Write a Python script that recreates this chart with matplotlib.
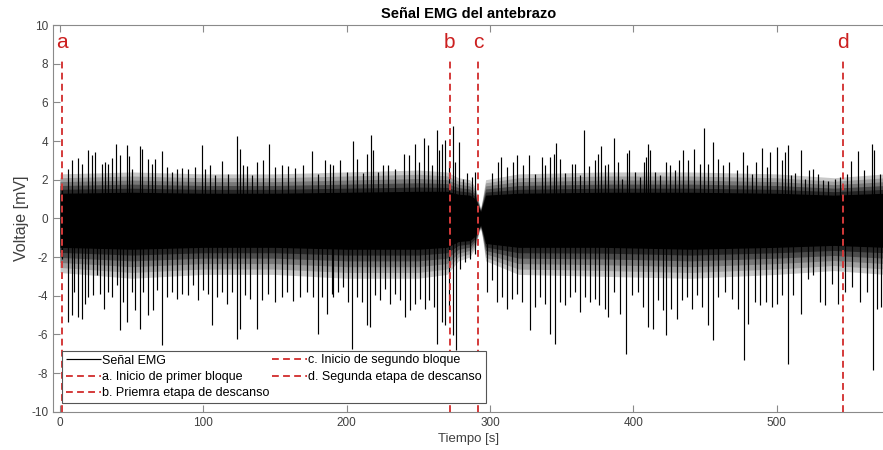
import numpy as np
import matplotlib
matplotlib.use("Agg")
from matplotlib import pyplot as plt

plt.rcParams["font.family"] = ["Liberation Sans", "DejaVu Sans"]
plt.rcParams["axes.unicode_minus"] = False

# marcas de los bloques (s)
mark_t = [1.4, 272.0, 292.0, 546.4]
mark_txt = ["a", "b", "c", "d"]
mark_lbl = ["a. Inicio de primer bloque", "b. Priemra etapa de descanso",
            "c. Inicio de segundo bloque", "d. Segunda etapa de descanso"]

# envolvente de la banda densa de la señal (mV)
core_t = [0, 50, 100, 150, 200, 250, 270, 278, 286, 290, 292, 293.5, 295, 297, 320, 380, 440, 500, 540, 576]
core_top = [1.3, 1.35, 1.3, 1.3, 1.35, 1.4, 1.4, 1.25, 1.2, 1.0, 0.6, 0.35, 0.7, 1.2, 1.3, 1.35, 1.35, 1.3, 1.2, 1.3]
core_bot = [-1.5, -1.6, -1.5, -1.5, -1.6, -1.6, -1.5, -1.2, -1.15, -0.9, -0.55, -0.35, -0.7, -1.3, -1.5, -1.5, -1.6, -1.5, -1.4, -1.5]
fringe_top = [2.3, 2.4, 2.3, 2.3, 2.4, 2.5, 2.4, 2.1, 2.0, 1.6, 0.9, 0.5, 1.1, 2.0, 2.3, 2.4, 2.4, 2.3, 2.1, 2.3]
fringe_bot = [-2.8, -3.1, -2.9, -2.9, -3.1, -3.1, -2.9, -2.2, -2.0, -1.5, -0.8, -0.5, -1.1, -2.2, -2.9, -3.0, -3.1, -2.9, -2.7, -2.9]

# picos positivos (t, mV)
up_t = [1.2, 5.8, 8.1, 12.8, 15.1, 19.8, 22.1, 24.4, 29.1, 31.4, 33.7, 36.0, 38.8, 41.9, 46.5, 48.1,
        50.0, 55.8, 57.4, 61.6, 64.0, 66.3, 70.9, 74.4, 77.9, 81.4, 84.9, 89.5, 94.2, 98.8, 101.2,
        104.7, 108.1, 112.8, 117.5, 123.3, 125.6, 128.0, 130.2, 133.7, 137.2, 141.9, 146.1, 150.0,
        154.7, 159.3, 164.0, 169.8, 175.6, 180.3, 184.9, 188.4,
        190.7, 195.4, 200.0, 204.2, 207.0, 211.7, 214.0, 216.8, 218.6, 222.1, 225.6, 229.1, 233.8,
        240.0, 243.8, 247.7, 250.7, 254.0, 257.0, 259.3, 262.8, 264.7, 266.3, 268.6, 271.4, 274.0,
        275.6, 278.4, 281.0, 284.2, 287.3, 289.6, 301.2, 305.9, 307.5, 311.7, 316.3, 318.7, 322.8,
        327.5, 331.5, 336.1, 338.4, 341.9, 344.7, 346.1, 348.9, 352.4, 357.0, 359.4, 362.9, 365.6,
        369.4, 373.3, 375.6, 377.3, 380.3, 382.6,
        386.8, 389.1, 391.9, 395.4, 397.0, 401.2, 404.7, 407.7, 408.7, 410.5, 411.7, 415.2, 418.7,
        422.6, 425.7, 429.1, 432.0, 435.0, 438.5, 442.6, 446.6, 449.4, 452.0, 455.9, 458.9, 462.9,
        466.8, 472.2, 476.4, 479.2, 482.6, 485.4, 489.6, 493.1, 495.4, 500.1, 503.6, 505.9, 507.8,
        510.1, 512.9, 517.1, 519.9, 522.7, 525.7, 529.2, 532.6, 536.1, 540.8, 544.3, 549.0, 552.0,
        557.1, 561.3, 566.4, 568.2, 572.2]
up_v = [1.54, 2.57, 3.00, 3.12, 2.83, 3.55, 3.29, 3.43, 2.83, 2.92, 2.83, 3.12, 3.83, 3.29, 3.78, 3.21,
        2.57, 3.74, 3.60, 3.05, 2.83, 3.09, 3.47, 2.66, 2.40, 2.54, 2.60, 2.57, 2.66, 3.78, 2.54,
        2.74, 2.23, 2.95, 2.31, 4.26, 3.60, 2.78, 2.71, 2.23, 2.92, 3.00, 3.86, 2.66,
        2.78, 2.71, 2.60, 2.78, 3.47, 2.31, 3.00, 2.83,
        2.74, 3.00, 2.40, 3.98, 3.09, 2.36, 3.35, 4.33, 3.52, 2.40, 2.74, 2.74, 2.57,
        3.35, 3.26, 3.86, 2.92, 4.16, 3.81, 2.74, 4.59, 3.52, 3.86, 4.04, 2.95, 4.78,
        2.92, 3.95, 2.05, 2.36, 2.14, 2.40, 2.36, 2.92, 3.17, 2.66, 2.92, 3.29, 2.74,
        3.26, 2.31, 3.17, 2.74, 3.17, 3.35, 3.90, 3.09, 2.36, 2.83, 2.83, 2.23, 4.59,
        2.71, 3.00, 3.35, 3.74, 2.74, 2.83,
        4.16, 2.92, 2.05, 3.40, 3.52, 2.40, 2.14, 2.92, 3.17, 3.86, 3.52, 2.40, 2.23,
        2.92, 2.74, 2.48, 3.00, 3.52, 3.00, 3.57, 2.83, 4.69, 2.83, 3.95, 3.09, 2.74,
        2.92, 2.48, 3.43, 2.74, 2.31, 2.92, 3.66, 2.66, 3.43, 3.69, 3.00, 3.43, 3.81,
        2.23, 2.36, 3.52, 2.05, 2.48, 2.57, 2.31, 1.97, 1.92, 2.05, 2.14, 2.31, 2.95,
        3.47, 2.48, 3.86, 3.52, 2.31]

# picos negativos (t, mV)
dn_t = [1.2, 5.8, 8.1, 10.0, 12.8, 15.1, 17.4, 19.8, 23.3, 25.6, 27.9, 30.9, 33.7, 36.0, 39.5, 41.9,
        44.2, 46.5, 50.5, 52.3, 55.8, 58.1, 61.6, 65.1, 67.4, 70.9, 74.4, 77.9, 81.4, 84.9, 89.5,
        93.0, 96.5, 100.0, 103.5, 106.3, 109.3, 112.8, 116.3, 119.8, 123.3, 125.6, 129.1, 132.6,
        137.2, 140.7, 145.4, 150.0, 154.7, 158.2, 162.8, 167.5, 172.1, 176.8, 180.3, 182.6, 186.1,
        189.6,
        190.7, 194.2, 197.7, 201.2, 203.5, 207.0, 210.5, 214.0, 216.3, 219.8, 223.3, 226.8, 230.3,
        233.8, 237.2, 240.7, 244.2, 247.7, 251.2, 254.7, 257.7, 261.0, 262.8, 266.3, 268.6, 271.7,
        274.0, 276.3, 279.1, 282.6, 286.1, 289.6, 297.7, 301.2, 304.7, 308.2, 311.7, 315.2, 318.7,
        322.2, 328.0, 331.5, 335.0, 338.4, 341.9, 345.4, 348.9, 352.4, 355.9, 359.4, 362.9, 366.3,
        369.8, 373.3, 376.3, 380.3,
        382.6, 386.8, 390.8, 394.7, 398.9, 403.6, 407.1, 410.5, 414.0, 417.5, 421.0, 422.6, 426.4,
        430.3, 433.8, 437.3, 440.8, 444.3, 447.8, 451.9, 455.9, 459.4, 464.0, 468.7, 472.9, 477.1,
        480.3, 485.0, 488.5, 492.4, 496.6, 500.1, 503.6, 507.8, 511.7, 517.1, 522.2, 525.7, 530.3,
        533.8, 538.5, 543.1, 547.8, 552.4, 558.2, 562.9, 567.1, 569.9, 572.9]
dn_v = [-2.09, -5.36, -5.02, -3.81, -5.10, -5.19, -4.41, -4.07, -3.98, -2.95, -3.90, -4.67, -3.81, -4.07, -3.47, -5.79,
        -4.33, -5.36, -3.81, -4.76, -5.71, -3.81, -5.02, -4.76, -3.72, -6.53, -4.07, -3.81, -4.15, -3.90, -3.98,
        -3.47, -4.24, -3.72, -3.90, -5.53, -4.07, -3.81, -4.41, -3.81, -6.22, -5.71, -3.98, -4.15,
        -5.71, -4.24, -3.90, -4.33, -4.07, -3.81, -4.29, -4.07, -3.81, -4.07, -5.96, -4.07, -4.93,
        -3.90,
        -4.07, -3.81, -3.55, -4.33, -6.74, -4.07, -4.33, -5.53, -5.62, -3.98, -4.24, -3.64, -4.41,
        -3.90, -4.24, -5.10, -4.76, -4.41, -4.15, -4.67, -4.24, -4.59, -6.48, -5.36, -5.53, -4.76,
        -6.05, -6.83, -2.60, -2.26, -2.09, -1.83, -3.81, -3.21, -4.33, -4.07, -4.67, -4.15, -3.90,
        -4.33, -5.79, -4.59, -4.07, -4.41, -5.96, -6.48, -4.33, -4.50, -4.07, -3.81, -4.84, -4.07,
        -4.33, -4.15, -4.50, -4.67,
        -5.10, -3.81, -4.93, -7.00, -3.98, -3.81, -4.59, -5.62, -5.71, -4.24, -4.76, -6.05, -4.67,
        -5.19, -4.24, -4.07, -4.67, -3.98, -4.59, -5.53, -6.31, -4.07, -3.81, -4.15, -4.67, -7.34,
        -5.45, -4.33, -4.50, -4.33, -4.59, -4.41, -3.98, -7.52, -3.98, -4.93, -3.12, -2.95, -4.33,
        -4.50, -3.38, -4.41, -3.81, -3.55, -4.33, -3.81, -7.86, -4.67, -4.59]

red = "#d43a3a"
txt_red = "#cc1f1f"
axis_gray = "#8a8a8a"
lbl_gray = "#404040"

fig = plt.figure(figsize=(8.83, 4.5), dpi=100)
ax = fig.add_axes([53 / 883, 38.3 / 450, 832 / 883, 386.7 / 450])

# banda densa: degradado del borde (núcleo negro -> borde gris claro)
ct, cb = np.array(core_top), np.array(core_bot)
ft, fb = np.array(fringe_top), np.array(fringe_bot)
shades = ["#c8c8c8", "#a0a0a0", "#787878", "#4c4c4c", "#262626"]
for k, col in enumerate(shades):
    f = 1 - k / len(shades)
    ax.fill_between(core_t, cb + (fb - cb) * f, ct + (ft - ct) * f, color=col, lw=0, zorder=1)
ax.fill_between(core_t, core_bot, core_top, color="black", lw=0, zorder=2)
# picos
ax.vlines(up_t, 0, up_v, colors="black", lw=0.85, zorder=2)
ax.vlines(dn_t, 0, dn_v, colors="black", lw=0.85, zorder=2, label="Señal EMG")

for t, s, lab in zip(mark_t, mark_txt, mark_lbl):
    ax.plot([t, t], [-10, 8.3], color=red, lw=1.4, ls=(0, (3.5, 2.2)), zorder=3, label=lab)
    ax.text(t, 9.1, s, color=txt_red, fontsize=15, ha="center", va="center", zorder=4)

ax.set_xlim(-4.9, 575.7)
ax.set_ylim(-10, 10)
ax.set_xticks(np.arange(0, 501, 100))
ax.set_yticks(np.arange(-10, 11, 2))
ax.tick_params(direction="in", length=5, width=0.8, color=axis_gray, labelcolor=lbl_gray,
               labelsize=8.5, top=True, right=False)
for sp in ax.spines.values():
    sp.set_color(axis_gray)
    sp.set_linewidth(0.8)

ax.set_title("Señal EMG del antebrazo", fontsize=10.5, fontweight="bold", pad=5)
ax.set_xlabel("Tiempo [s]", fontsize=9.5, color=lbl_gray)
ax.set_ylabel("Voltaje [mV]", fontsize=11.5, color=lbl_gray)
ax.xaxis.set_label_coords(0.5, -0.054)
ax.yaxis.set_label_coords(-0.029, 0.5)

h, l = ax.get_legend_handles_labels()
order = [l.index("Señal EMG")] + [l.index(m) for m in mark_lbl]
leg = ax.legend([h[i] for i in order], [l[i] for i in order], ncol=2, loc="lower left",
                bbox_to_anchor=(9 / 832, 8.7 / 386.7), fontsize=9, frameon=True, fancybox=False,
                edgecolor="#555555", framealpha=1, borderpad=0.3, labelspacing=0.35,
                handlelength=2.8, handletextpad=0.1, columnspacing=0.2, borderaxespad=0)
leg.get_frame().set_linewidth(0.8)

fig.savefig("out.png", dpi=100)
